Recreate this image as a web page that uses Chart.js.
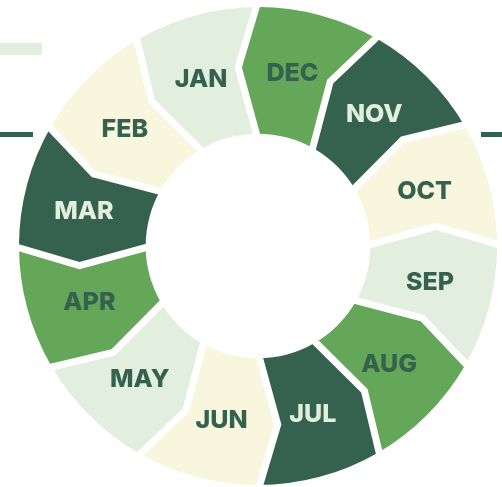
<!DOCTYPE html>
<html>
<head>
<meta charset="utf-8">
<script src="https://cdn.jsdelivr.net/npm/chart.js@4/dist/chart.umd.min.js"></script>
<style>
  html, body { margin: 0; padding: 0; background: #fff; }
  #wrap { width: 502px; height: 487px; position: relative; }
</style>
</head>
<body>
<div id="wrap"><canvas id="months"></canvas></div>
<script>
// months clockwise from 12 o'clock
var months = ['DEC', 'NOV', 'OCT', 'SEP', 'AUG', 'JUL', 'JUN', 'MAY', 'APR', 'MAR', 'FEB', 'JAN'];
var shares = [1, 1, 1, 1, 1, 1, 1, 1, 1, 1, 1, 1];
var fills = ['#64a758', '#35614f', '#f8f6dc', '#e3efde', '#64a758', '#35614f', '#f8f6dc', '#e3efde', '#64a758', '#35614f', '#f8f6dc', '#e3efde'];
var inks = ['#35614f', '#e3efde', '#35614f', '#35614f', '#35614f', '#e3efde', '#35614f', '#35614f', '#35614f', '#e3efde', '#35614f', '#35614f'];

// little bars in the background
var decoPlugin = {
	id: 'deco',
	beforeDraw: function (chart) {
		var c = chart.ctx;
		c.save();
		c.fillStyle = '#e3efde';
		c.fillRect(0, 43, 42, 12);
		c.fillStyle = '#35614f';
		c.fillRect(0, 132, 33, 5);
		c.fillRect(481, 132, 21, 5);
		c.restore();
	}
};

function pt(arc, r, a) {
	return [arc.x + r * Math.cos(a), arc.y + r * Math.sin(a)];
}

function poly(c, pts) {
	c.beginPath();
	c.moveTo(pts[0][0], pts[0][1]);
	for (var k = 1; k < pts.length; k++) {
		c.lineTo(pts[k][0], pts[k][1]);
	}
}

// chevron shaped edges + month names
var chevronPlugin = {
	id: 'chevrons',
	afterDatasetsDraw: function (chart) {
		var c = chart.ctx;
		var arcs = chart.getDatasetMeta(0).data;
		c.save();
		// each segment pushes a point into its neighbour
		arcs.forEach(function (arc, i) {
			var a = arc.startAngle;
			var rIn = arc.innerRadius + 0.5, rOut = arc.outerRadius - 0.5;
			var rMid = (arc.innerRadius + arc.outerRadius) / 2 + 4;
			poly(c, [pt(arc, rIn, a), pt(arc, rMid, a - 0.11), pt(arc, rOut, a), pt(arc, rOut, a + 0.03), pt(arc, rIn, a + 0.03)]);
			c.closePath();
			c.fillStyle = fills[i];
			c.fill();
		});
		c.strokeStyle = '#fff';
		c.lineWidth = 7;
		c.lineJoin = 'miter';
		arcs.forEach(function (arc) {
			var a = arc.startAngle;
			var rMid = (arc.innerRadius + arc.outerRadius) / 2 + 4;
			poly(c, [pt(arc, arc.innerRadius - 6, a), pt(arc, rMid, a - 0.11), pt(arc, arc.outerRadius + 6, a)]);
			c.stroke();
		});
		c.font = '800 25px Inter, Lato, sans-serif';
		c.textAlign = 'center';
		c.textBaseline = 'middle';
		arcs.forEach(function (arc, i) {
			var mid = (arc.startAngle + arc.endAngle) / 2 - 0.06;
			var r = (arc.innerRadius + arc.outerRadius) / 2 + 1;
			var p = pt(arc, r, mid);
			c.fillStyle = inks[i];
			c.fillText(months[i], p[0] - 1, p[1] + 1);
		});
		c.restore();
	}
};

new Chart(document.getElementById('months'), {
	type: 'doughnut',
	data: {
		labels: months,
		datasets: [{
			data: shares,
			backgroundColor: fills,
			borderWidth: 0
		}]
	},
	options: {
		responsive: true,
		maintainAspectRatio: false,
		animation: false,
		cutout: '47%',
		layout: { padding: { left: 19, right: 5, top: 7, bottom: 2 } },
		plugins: {
			legend: { display: false },
			tooltip: { enabled: false }
		}
	},
	plugins: [decoPlugin, chevronPlugin]
});
</script>
</body>
</html>
